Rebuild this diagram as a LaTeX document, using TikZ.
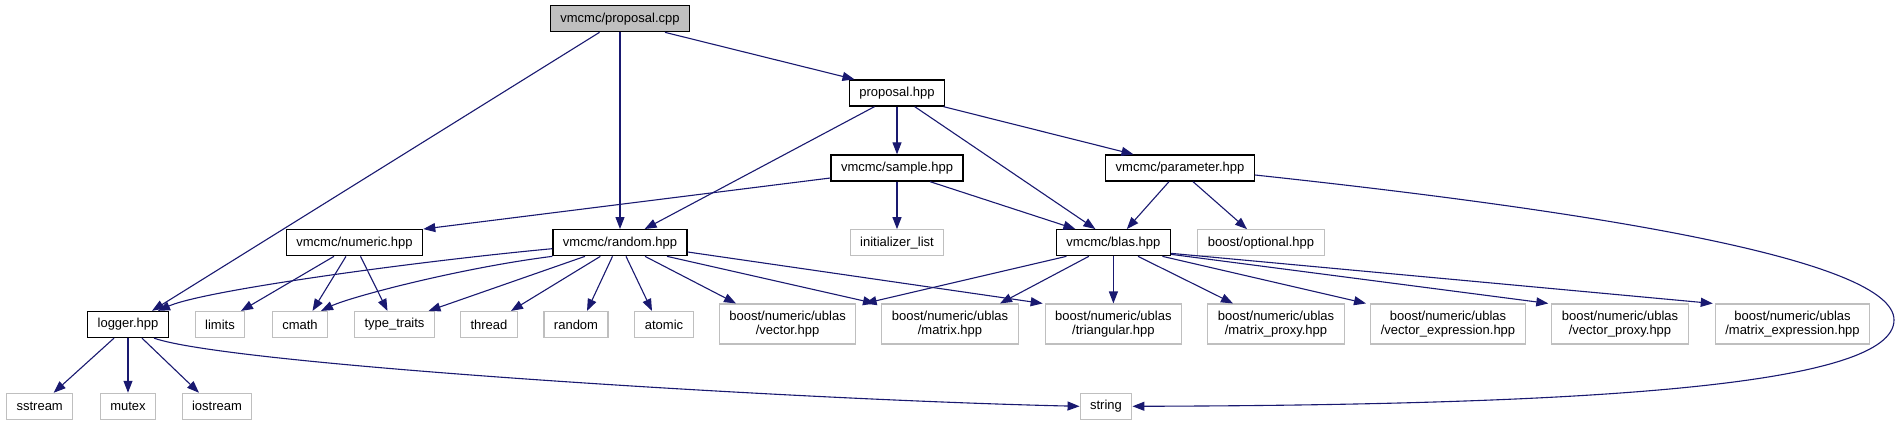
\documentclass[tikz,border=0pt]{standalone}
\usepackage{fontspec}
\setmainfont{Liberation Sans}
\usepackage{tikz}
\usetikzlibrary{arrows.meta, calc}

\definecolor{edgeblue}{HTML}{191970}
\definecolor{leafgray}{HTML}{BFBFBF}

\begin{document}
\begin{tikzpicture}[
    x=1pt, y=-1pt,
    font=\fontsize{13}{14}\selectfont,
    filebox/.style={rectangle, draw=black, line width=1.3pt, fill=white,
        minimum height=26pt, inner xsep=10pt, inner ysep=2pt},
    rootbox/.style={filebox, fill=leafgray},
    leafbox/.style={filebox, draw=leafgray, line width=1.1pt},
    twoline/.style={minimum height=40pt, align=center},
    incl/.style={draw=edgeblue, line width=1.1pt, -{Triangle[length=12pt, width=9pt]}}
]

\useasboundingbox (0,0) rectangle (1899,425);

% Source file and its own headers
\node[rootbox] (cpp) at (620,18.7) {vmcmc/proposal.cpp};
\node[filebox] (prop) at (897,93) {proposal.hpp};
\node[filebox] (sample) at (897,168) {vmcmc/sample.hpp};
\node[filebox] (param) at (1180,168) {vmcmc/parameter.hpp};
\node[filebox] (numeric) at (354.5,242.7) {vmcmc/numeric.hpp};
\node[filebox] (random) at (620,242.7) {vmcmc/random.hpp};
\node[filebox] (blas) at (1113.4,242.7) {vmcmc/blas.hpp};
\node[filebox] (logger) at (128,324.5) {logger.hpp};

% System headers
\node[leafbox] (initlist) at (897,242.7) {initializer\_list};
\node[leafbox] (optional) at (1261,242.7) {boost/optional.hpp};
\foreach \name/\x/\txt in {limits/220/limits, cmath/300/cmath, typetraits/394.5/type\_traits,
    thread/489/thread, randomh/576/random, atomic/664/atomic} {
    \node[leafbox] (\name) at (\x,324.5) {\txt};
}
\foreach \name/\x/\txt in {ublasvector/787.6/vector.hpp, ublasmatrix/950/matrix.hpp,
    triangular/1113.4/triangular.hpp, matrixproxy/1276/matrix\_proxy.hpp,
    vectorexpr/1448/vector\_expression.hpp, vectorproxy/1620/vector\_proxy.hpp,
    matrixexpr/1792.5/matrix\_expression.hpp} {
    \node[leafbox, twoline] (\name) at (\x,324) {boost/numeric/ublas\\/\txt};
}
\foreach \name/\x/\txt in {sstream/39.7/sstream, mutex/128/mutex, iostream/217/iostream, string/1106/string} {
    \node[leafbox] (\name) at (\x,406.3) {\txt};
}

% Straight includes (offsets along bottom and top edges)
\foreach \a/\da/\b/\db in {cpp/-20.5/logger/24, cpp/0/random/0, cpp/45/prop/-42.5,
    prop/-22.5/random/24.6, prop/0/sample/0, prop/17.7/blas/-18, prop/46.5/param/-46.5,
    sample/0/initlist/0, sample/33/blas/-38, param/-11/blas/13.4, param/13/optional/-14,
    numeric/-20.5/limits/21, numeric/-8.5/cmath/12.5, numeric/6/typetraits/-7,
    random/-35/typetraits/34, random/-19.6/thread/22, random/-7.5/randomh/11,
    random/6/atomic/-12, random/25/ublasvector/-51.6, random/47/ublasmatrix/-75,
    blas/-47/ublasvector/77, blas/-24.6/ublasmatrix/50, blas/0/triangular/0,
    blas/24.6/matrixproxy/-43, blas/49/vectorexpr/-82,
    logger/-14/sstream/14, logger/0/mutex/0, logger/14/iostream/-18} {
    \draw[incl] ($(\a.south)+(\da,0)$) -- ($(\b.north)+(\db,0)$);
}
\draw[incl] ($(sample.west)+(0,10)$) -- (numeric.north east);
\draw[incl] ($(random.east)+(0,9.3)$) -- ($(triangular.north west)+(-2,0)$);
\draw[incl] ($(blas.south east)+(0,-2)$) -- ($(vectorproxy.north west)+(-3,0)$);
\draw[incl] ($(blas.south east)+(0,-3)$) -- ($(matrixexpr.north west)+(-2,0)$);

% Curved includes
\draw[incl] ($(random.west)+(0,6)$) .. controls (420,261) and (205,290) .. ($(logger.north)+(30,0)$);
\draw[incl] (random.south west) .. controls (460,268) and (350,297) .. ($(cmath.north)+(21,0)$);
\draw[incl] ($(logger.south)+(26,0)$) .. controls (230,365) and (800,400) .. (string.west);
\draw[incl] ($(param.east)+(0,7)$) .. controls (1600,212) and (1894,260) .. (1894,320)
    .. controls (1894,385) and (1600,405) .. (string.east);

\end{tikzpicture}
\end{document}
